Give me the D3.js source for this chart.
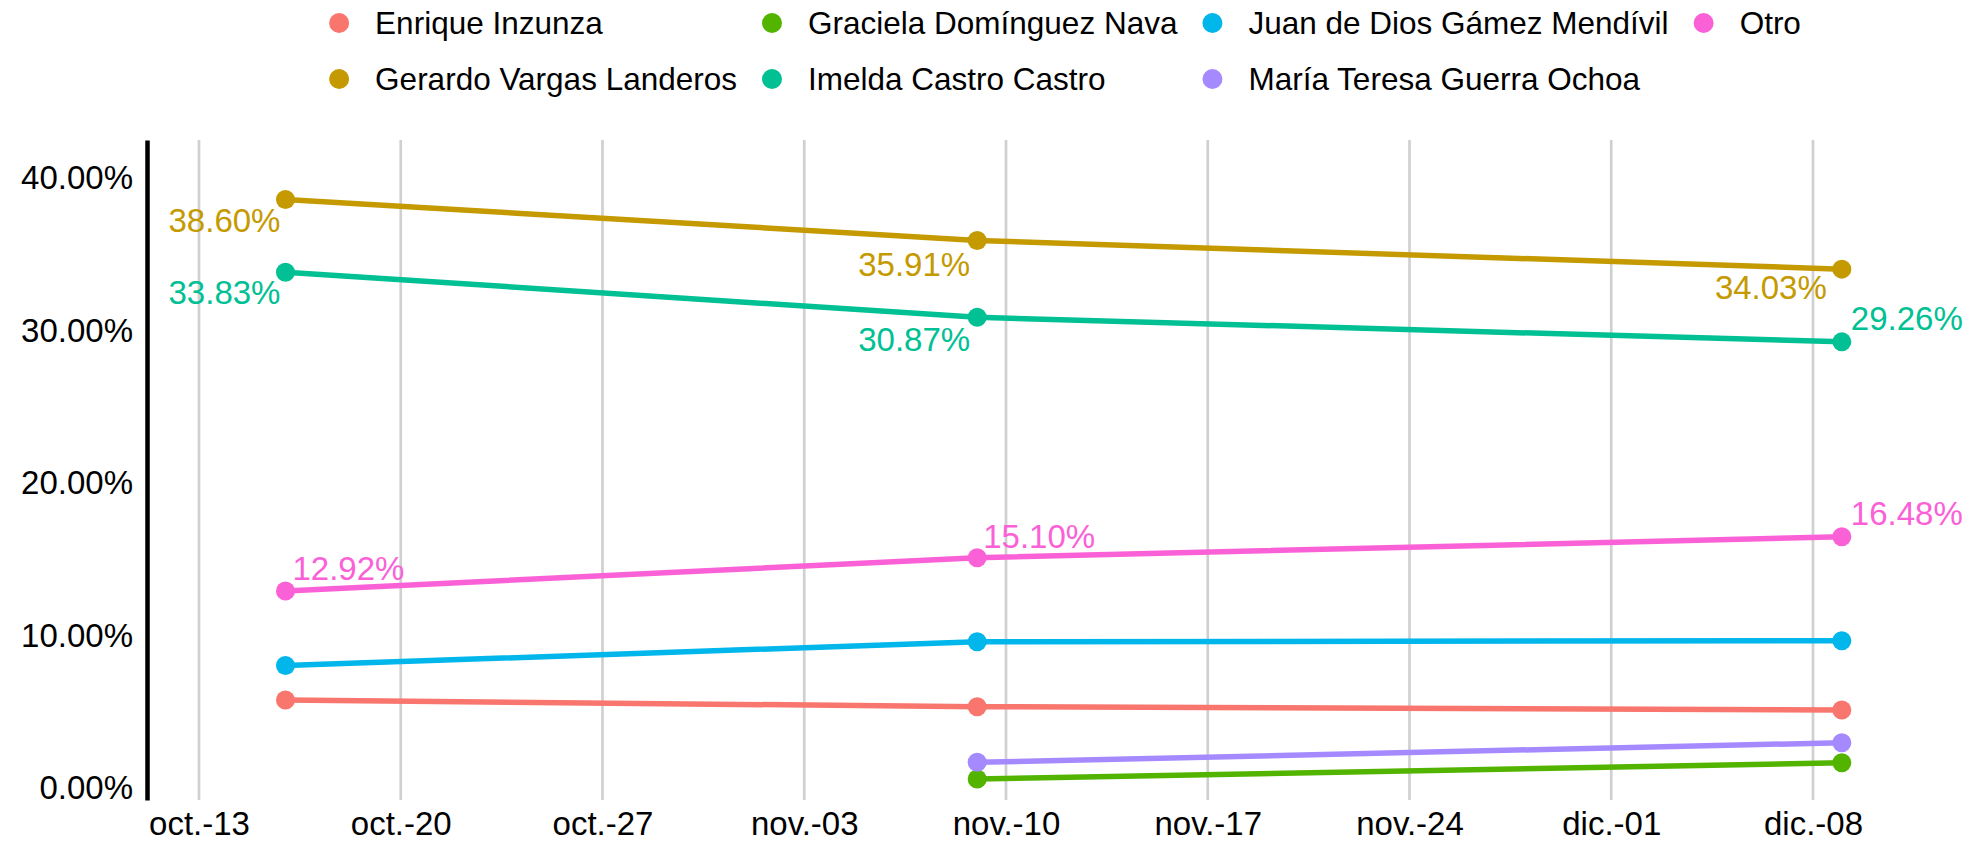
<!DOCTYPE html>
<html>
<head>
<meta charset="utf-8">
<script src="https://cdn.jsdelivr.net/npm/d3@7"></script>
<style>
  body { margin: 0; background: #fff; }
  text { font-family: "Liberation Sans", Arial, sans-serif; }
</style>
</head>
<body>
<script>
// poll dates and the weekly ticks
const pollDates = ["2025-10-16", "2025-11-09", "2025-12-09"];
const tickDates = ["2025-10-13", "2025-10-20", "2025-10-27", "2025-11-03", "2025-11-10",
  "2025-11-17", "2025-11-24", "2025-12-01", "2025-12-08"];
const yTicks = [0, 10, 20, 30, 40];

// candidates, alphabetical (legend order)
const candidates = ["Enrique Inzunza", "Gerardo Vargas Landeros", "Graciela Domínguez Nava",
  "Imelda Castro Castro", "Juan de Dios Gámez Mendívil", "María Teresa Guerra Ochoa", "Otro"];
const colors = ["#F8766D", "#C49A00", "#53B400", "#00C094", "#00B6EB", "#A58AFF", "#FB61D7"];

// values in %, null = not polled
const enriqueInzunza = [5.77, 5.33, 5.11];
const gerardoVargas = [38.60, 35.91, 34.03];
const gracielaDominguez = [null, 0.59, 1.65];
const imeldaCastro = [33.83, 30.87, 29.26];
const juanDeDios = [8.03, 9.59, 9.66];
const mariaTeresa = [null, 1.68, 2.97];
const otro = [12.92, 15.10, 16.48];

const allValues = [enriqueInzunza, gerardoVargas, gracielaDominguez, imeldaCastro,
  juanDeDios, mariaTeresa, otro];

// which series get value labels, and where they sit relative to the point
const labelPlacement = {
  "Gerardo Vargas Landeros": [{ dx: -5, dy: 33, a: "end" }, { dx: -7, dy: 36, a: "end" }, { dx: -15, dy: 30, a: "end" }],
  "Imelda Castro Castro": [{ dx: -5, dy: 32, a: "end" }, { dx: -7, dy: 34, a: "end" }, { dx: 9, dy: -12, a: "start" }],
  "Otro": [{ dx: 7, dy: -11, a: "start" }, { dx: 6, dy: -10, a: "start" }, { dx: 9, dy: -12, a: "start" }]
};

const W = 1977, H = 842;
const panel = { left: 147, top: 140, bottom: 800 };

const parse = d3.utcParse("%Y-%m-%d");
const es = d3.timeFormatLocale({
  dateTime: "%x, %X", date: "%d/%m/%Y", time: "%H:%M:%S", periods: ["AM", "PM"],
  days: ["domingo", "lunes", "martes", "miércoles", "jueves", "viernes", "sábado"],
  shortDays: ["dom", "lun", "mar", "mié", "jue", "vie", "sáb"],
  months: ["enero", "febrero", "marzo", "abril", "mayo", "junio", "julio", "agosto",
    "septiembre", "octubre", "noviembre", "diciembre"],
  shortMonths: ["ene.", "feb.", "mar.", "abr.", "may.", "jun.", "jul.", "ago.",
    "sept.", "oct.", "nov.", "dic."]
});
const fmtTick = es.utcFormat("%b-%d");

const svg = d3.select("body").append("svg")
  .attr("width", W)
  .attr("height", H);

const x = d3.scaleUtc()
  .domain([parse(tickDates[0]), parse(tickDates[tickDates.length - 1])])
  .range([199, 1813]);
const y = d3.scaleLinear()
  .domain([-0.79, 42.5])
  .range([panel.bottom, panel.top]);

// vertical gridlines
svg.append("g").selectAll("line")
  .data(tickDates.map(parse))
  .join("line")
  .attr("x1", d => x(d)).attr("x2", d => x(d))
  .attr("y1", panel.top).attr("y2", panel.bottom)
  .attr("stroke", "#d0d0d0")
  .attr("stroke-width", 2.7);

// y axis
const gy = svg.append("g")
  .attr("transform", `translate(${panel.left},0)`)
  .call(d3.axisLeft(y).tickValues(yTicks).tickSize(0).tickSizeOuter(0).tickPadding(14)
    .tickFormat(d => d.toFixed(2) + "%"));
gy.select(".domain").attr("stroke", "#000").attr("stroke-width", 4.5);
gy.selectAll("text").attr("font-size", 33).attr("fill", "#000")
  .style("font-family", '"Liberation Sans", Arial, sans-serif');

// x axis
const gx = svg.append("g")
  .attr("transform", `translate(0,${panel.bottom})`)
  .call(d3.axisBottom(x).tickValues(tickDates.map(parse)).tickSize(0).tickSizeOuter(0)
    .tickPadding(12).tickFormat(fmtTick));
gx.select(".domain").remove();
gx.selectAll("text").attr("font-size", 33).attr("fill", "#000")
  .style("font-family", '"Liberation Sans", Arial, sans-serif');

// build series
const series = candidates.map((name, i) => ({
  name: name,
  color: colors[i],
  points: pollDates.map((d, j) => ({ date: parse(d), value: allValues[i][j], idx: j }))
    .filter(p => p.value !== null)
}));

const line = d3.line()
  .x(d => x(d.date))
  .y(d => y(d.value));

svg.append("g").selectAll("path")
  .data(series)
  .join("path")
  .attr("fill", "none")
  .attr("stroke", d => d.color)
  .attr("stroke-width", 5.5)
  .attr("d", d => line(d.points));

series.forEach(s => {
  svg.append("g").selectAll("circle")
    .data(s.points)
    .join("circle")
    .attr("cx", d => x(d.date))
    .attr("cy", d => y(d.value))
    .attr("r", 9.5)
    .attr("fill", s.color);
});

// value labels
series.forEach(s => {
  const place = labelPlacement[s.name];
  if (!place) return;
  svg.append("g").selectAll("text")
    .data(s.points)
    .join("text")
    .attr("x", d => x(d.date) + place[d.idx].dx)
    .attr("y", d => y(d.value) + place[d.idx].dy)
    .attr("text-anchor", d => place[d.idx].a)
    .attr("font-size", 33)
    .attr("fill", s.color)
    .text(d => d.value.toFixed(2) + "%");
});

// legend: 2 rows, filled by column
const legend = svg.append("g");
const rowY = [23, 79];
let cx = 0;
let rightEdge = 0;
for (let c = 0; c < Math.ceil(candidates.length / 2); c++) {
  let maxW = 0;
  for (let r = 0; r < 2; r++) {
    const i = c * 2 + r;
    if (i >= candidates.length) break;
    legend.append("circle")
      .attr("cx", cx).attr("cy", rowY[r]).attr("r", 10)
      .attr("fill", colors[i]);
    const t = legend.append("text")
      .attr("x", cx + 36).attr("y", rowY[r])
      .attr("dy", "0.35em")
      .attr("font-size", 31.5)
      .attr("fill", "#000")
      .text(candidates[i]);
    maxW = Math.max(maxW, t.node().getComputedTextLength());
  }
  rightEdge = cx + 36 + maxW;
  cx = rightEdge + 35;
}
const legendW = rightEdge + 10;
legend.attr("transform", `translate(${1065 - legendW / 2 + 10},0)`);
</script>
</body>
</html>
